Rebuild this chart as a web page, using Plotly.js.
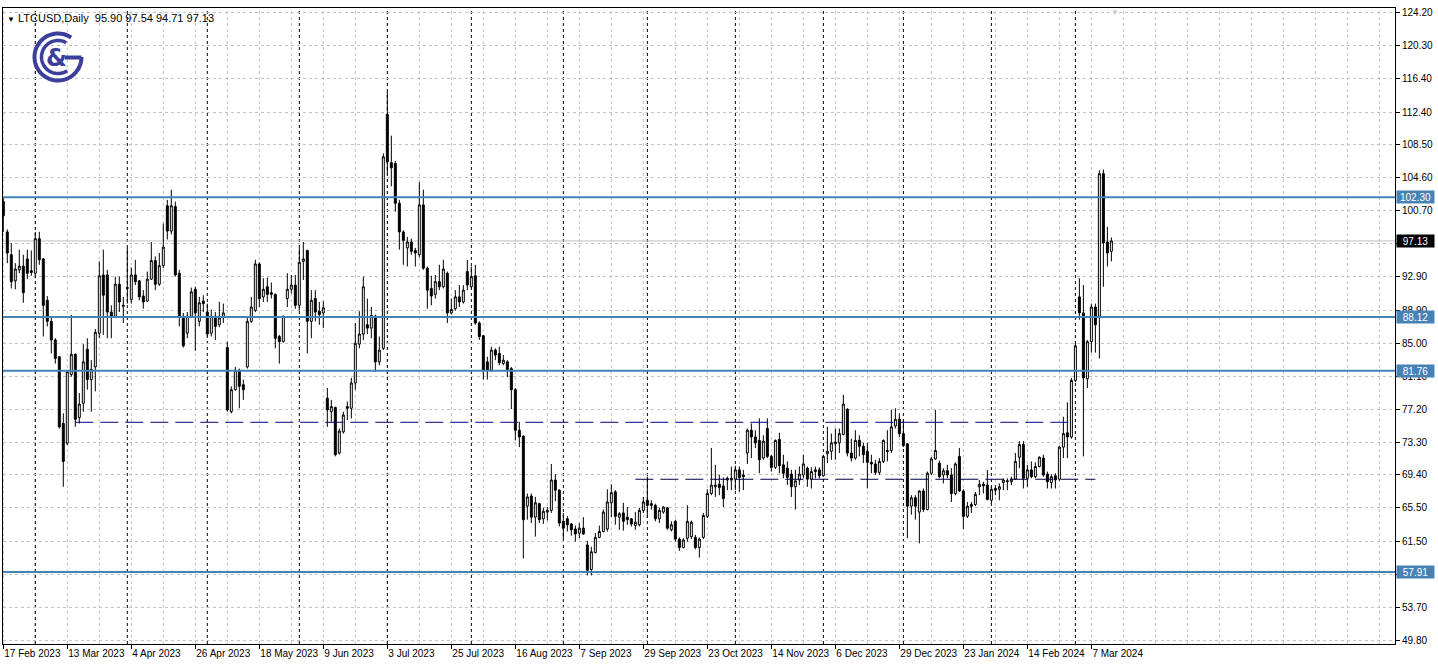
<!DOCTYPE html>
<html><head><meta charset="utf-8">
<script src="https://cdn.plot.ly/plotly-3.0.1.min.js"></script>
<style>html,body{margin:0;padding:0;background:#fff;}#chart{width:1438px;height:671px;}</style>
</head><body><div id="chart"></div>
<script>
// ---- data (LTCUSD daily, weekday bars) ----
const symbol = "LTCUSD,Daily";
const firstDate = "2023-02-17";
const skipDates = ["2023-12-25", "2024-01-01"];
const open = [
101.8,98.2,95.5,92.4,93.7,94.15,95.0,93.6,93.3,97.4,
95.0,90.1,87.6,85.4,83.4,75.5,73.15,81.3,83.7,76.2,
77.9,84.3,80.7,82.2,86.2,93.1,93.1,88.7,88.2,92.0,
89.5,91.5,90.2,93.1,92.4,90.6,90.0,92.6,94.8,92.0,
94.2,101.3,98.3,101.2,93.3,88.2,86.2,88.2,91.4,87.6,
90.0,88.7,86.2,88.2,87.2,88.0,84.5,76.9,79.5,81.8,
80.1,82.2,87.6,88.9,94.4,90.5,91.7,91.0,90.8,85.8,
85.2,90.3,91.4,91.9,89.5,94.7,96.0,87.6,90.3,88.8,
88.6,78.5,76.9,77.4,72.0,74.5,77.5,77.3,80.3,84.9,
86.1,87.2,86.8,88.2,82.8,84.4,112.1,106.4,106.3,101.6,
98.2,96.3,97.0,96.0,95.5,101.4,93.9,91.5,90.8,92.3,
91.7,93.3,88.6,89.1,90.5,89.9,93.5,91.7,93.0,87.4,
85.9,82.8,81.8,84.2,83.8,82.6,82.8,82.0,79.5,74.7,
74.0,65.7,66.9,64.4,66.0,64.2,65.0,65.2,68.8,67.6,
63.9,64.2,63.6,63.0,62.5,63.1,61.1,58.2,60.2,62.0,
62.7,63.0,66.1,67.4,64.4,64.9,64.4,64.2,63.4,63.5,
65.2,66.4,66.0,65.8,64.2,65.0,65.5,62.9,63.9,61.8,
60.8,61.9,62.1,62.0,60.8,62.0,64.5,67.2,68.0,68.3,
68.1,68.8,69.0,68.9,70.0,69.4,72.0,74.7,73.9,73.5,
71.4,74.9,71.6,70.3,73.6,70.6,70.2,69.5,68.0,68.8,
69.4,70.2,68.9,69.8,70.0,69.3,71.9,72.2,73.1,73.2,
74.2,77.2,72.0,71.4,73.5,72.8,72.2,70.9,70.7,69.7,
71.0,72.3,72.3,75.2,76.0,74.3,73.1,65.7,66.7,65.0,
67.5,65.3,69.6,71.3,70.8,69.4,69.9,69.4,67.2,71.6,
67.5,64.5,65.9,65.9,68.0,68.3,68.2,66.4,67.8,67.7,
68.5,68.6,68.6,68.9,71.5,73.0,69.0,70.0,69.2,70.4,
71.4,69.5,68.5,69.3,68.9,72.7,74.4,73.9,80.6,90.5,
88.6,80.8,85.2,89.3,88.2,105.1,97.0,95.90];
const high = [
102.2,98.5,96.85,94.5,96.1,95.5,96.1,96.0,98.2,98.2,
95.1,90.6,88.0,85.6,83.5,76.7,81.8,88.35,83.8,79.1,
84.9,85.6,83.0,86.7,94.7,96.1,93.7,89.5,92.9,92.9,
90.5,96.3,94.0,94.9,92.5,91.3,93.5,97.0,95.3,95.7,
99.2,102.0,103.2,101.8,93.7,88.6,88.7,91.6,91.7,90.5,
90.7,89.7,89.0,88.7,89.9,89.7,85.2,79.9,82.2,82.0,
80.7,88.1,90.5,94.9,94.6,92.7,92.8,92.2,90.9,86.0,
88.3,93.3,93.1,93.1,96.3,97.0,96.1,91.3,91.3,89.9,
90.0,79.7,78.3,77.5,74.9,76.9,78.1,80.9,87.4,88.8,
92.9,90.3,89.3,88.4,85.8,107.5,114.8,109.6,106.6,102.0,
98.4,97.6,97.4,96.3,104.1,103.2,94.1,93.0,93.1,94.3,
94.9,93.5,90.3,91.3,91.9,91.9,94.9,94.1,94.3,87.6,
86.0,83.4,84.6,84.4,84.6,83.6,83.0,82.2,79.7,75.7,
74.1,67.2,67.2,66.8,66.1,65.5,65.6,70.7,69.5,67.7,
64.9,64.5,63.7,63.4,63.7,64.4,61.6,60.9,62.5,63.4,
65.3,67.7,68.3,67.6,65.0,66.1,65.6,64.3,65.0,65.5,
66.8,69.2,66.4,66.0,65.5,65.7,65.6,63.9,64.1,62.0,
61.9,65.8,64.0,62.3,62.0,64.9,67.7,72.6,70.6,69.4,
69.1,69.2,70.4,70.5,70.4,70.0,74.9,75.5,74.7,76.1,
74.1,76.1,71.8,73.6,74.4,71.8,71.0,70.0,70.0,70.4,
71.8,70.4,70.3,70.4,70.3,71.8,75.1,74.3,74.9,74.9,
78.9,77.3,73.7,74.7,74.1,73.2,73.2,71.8,71.2,71.4,
73.6,74.7,77.1,77.3,76.7,75.9,73.2,67.0,67.0,67.6,
67.8,69.8,71.5,77.1,71.1,70.2,70.6,70.2,70.9,72.6,
67.7,66.2,66.2,67.4,68.8,68.6,70.0,68.0,68.2,68.4,
69.0,69.0,69.2,72.0,73.4,73.4,70.6,71.0,70.9,71.6,
71.8,69.8,69.5,69.6,72.8,76.3,78.0,80.9,85.0,92.7,
91.9,85.4,89.7,89.7,105.5,105.6,98.8,97.54];
const low = [
98.2,94.5,91.5,91.4,93.3,89.8,92.6,93.0,92.7,94.3,
85.8,87.0,83.8,82.6,74.9,68.0,72.95,81.05,75.1,75.5,
76.9,79.5,76.9,79.3,85.6,86.0,85.6,85.6,88.1,88.7,
87.4,89.7,89.7,91.9,90.1,89.1,89.9,92.5,91.3,91.8,
93.9,97.3,97.9,92.9,87.0,84.5,85.6,88.1,84.1,87.0,
88.7,85.8,85.8,85.4,86.9,87.4,76.9,76.7,79.4,77.3,
78.3,82.0,87.4,88.7,89.3,89.9,89.9,90.3,84.4,82.6,
85.1,89.3,90.9,89.1,88.9,92.5,83.8,85.6,87.6,87.2,
86.8,75.1,75.7,71.6,71.8,74.3,75.9,76.1,79.5,84.4,
85.4,86.1,85.6,81.6,82.4,84.2,105.1,103.6,100.6,96.1,
94.3,94.1,95.5,94.1,95.2,93.7,89.1,89.5,90.3,91.3,
91.5,87.4,88.4,88.9,89.3,89.7,91.3,91.5,87.2,85.4,
80.7,80.7,81.6,83.0,82.4,82.4,81.0,77.2,73.5,72.7,
59.5,64.1,63.7,62.1,63.7,63.6,64.0,64.9,66.3,63.3,
61.8,62.7,62.2,61.5,61.9,62.3,57.5,57.5,60.1,61.9,
62.6,62.7,64.4,63.5,62.9,62.8,63.5,63.3,62.9,63.3,
64.9,64.3,65.3,63.9,63.7,64.8,62.9,62.7,61.5,60.4,
60.7,61.5,61.8,60.6,59.6,61.8,64.3,67.0,66.8,67.0,
65.6,67.6,67.6,67.6,67.4,67.6,70.7,71.4,72.6,69.6,
71.2,71.4,69.8,70.1,69.6,69.0,68.2,66.8,65.3,68.2,
69.0,68.0,67.8,69.0,69.0,69.2,70.8,71.2,71.2,72.0,
74.1,71.6,71.0,71.2,71.6,70.8,67.8,69.6,69.4,69.4,
70.8,71.0,72.0,74.9,73.9,72.7,61.9,64.7,64.1,61.3,
65.0,65.2,69.4,71.2,69.0,68.4,69.0,66.2,67.0,67.4,
63.0,64.3,64.9,65.7,67.0,67.2,66.4,66.0,67.0,66.4,
67.6,67.6,68.2,68.8,70.2,67.8,68.0,69.0,69.0,70.3,
69.2,67.8,67.8,67.8,68.7,71.4,71.4,73.7,80.4,87.8,
71.6,79.7,83.9,83.9,83.2,91.7,94.1,94.71];
const close = [
100.1,95.7,92.3,93.8,94.15,91.0,93.3,93.4,97.4,94.9,
89.5,87.6,85.4,83.2,75.1,71.0,81.64,83.7,76.0,77.8,
82.8,80.7,81.9,86.3,93.0,90.7,88.7,88.2,92.0,89.9,
89.4,91.6,93.1,92.3,90.5,89.9,92.6,94.8,92.0,94.2,
96.4,98.3,101.3,93.1,88.2,84.7,88.2,91.1,88.6,89.8,
89.7,86.1,88.2,87.0,88.0,88.6,77.1,79.5,81.8,79.9,
79.5,87.6,89.3,94.4,90.3,91.4,90.8,90.8,85.6,85.2,
88.2,91.4,91.9,89.5,94.6,95.0,87.6,90.1,88.7,88.4,
89.2,77.1,77.5,71.8,74.6,76.5,77.3,80.3,85.0,86.1,
91.7,86.8,88.3,82.8,84.2,107.1,106.5,105.8,101.6,98.2,
97.2,97.0,95.9,95.7,101.4,93.9,91.3,90.6,92.3,91.7,
93.8,88.6,89.0,90.5,89.9,91.3,91.9,92.9,87.4,85.8,
81.8,81.8,84.2,83.6,82.7,83.0,81.9,79.5,74.7,73.9,
64.1,66.8,64.4,66.1,64.1,65.1,65.2,68.8,67.6,63.7,
63.1,63.5,62.9,62.4,63.1,62.4,58.1,60.3,62.0,62.7,
65.0,66.2,67.3,64.5,64.8,63.9,64.1,63.6,63.8,65.2,
66.2,65.8,65.8,64.2,65.2,65.6,63.1,63.5,61.8,60.8,
61.7,63.9,63.8,60.8,61.8,64.6,67.2,68.2,68.2,67.9,
66.6,69.0,68.8,70.0,69.1,69.2,74.7,73.9,73.2,71.2,
73.4,71.6,70.3,73.5,70.5,69.6,69.1,68.0,68.7,69.5,
70.7,68.9,69.8,70.0,69.3,71.6,72.2,73.2,73.3,74.3,
77.8,72.0,71.4,73.5,72.8,71.8,70.9,70.7,69.7,71.0,
73.5,72.2,75.1,76.0,74.3,72.9,65.7,66.7,65.7,67.5,
65.3,69.6,71.3,72.3,69.2,69.9,69.4,67.2,70.7,67.5,
64.5,65.7,65.7,67.1,68.3,68.1,66.5,67.7,67.6,68.0,
68.8,68.7,68.9,71.0,73.0,69.0,70.0,69.2,70.4,71.5,
69.4,68.6,69.2,68.8,72.7,74.3,73.9,80.6,84.7,88.6,
80.9,85.2,89.3,87.2,105.1,96.9,95.7,97.13];
const tickLabels = ["17 Feb 2023","13 Mar 2023","4 Apr 2023","26 Apr 2023","18 May 2023","9 Jun 2023",
 "3 Jul 2023","25 Jul 2023","16 Aug 2023","7 Sep 2023","29 Sep 2023","23 Oct 2023","14 Nov 2023",
 "6 Dec 2023","29 Dec 2023","23 Jan 2024","14 Feb 2024","7 Mar 2024"];
const yTicks = [124.20,120.30,116.40,112.40,108.50,104.60,100.70,96.80,92.90,88.90,85.00,81.10,77.20,73.30,69.40,65.50,61.50,57.60,53.70,49.80];
const levels = [102.30, 88.12, 81.76, 57.91];
const lastPrice = 97.13;
const dashLevelUpper = 75.64;
const dashLevelLower = 68.89;
const dashUpperBars = [18, 268];
const dashLowerBars = [158, 273];

// ---- build dates (weekdays, excluding skipDates) ----
const MON = ["Jan","Feb","Mar","Apr","May","Jun","Jul","Aug","Sep","Oct","Nov","Dec"];
const N = close.length;
const dates = [];
{
  let d = new Date(firstDate + "T00:00:00Z");
  while (dates.length < N) {
    const wd = d.getUTCDay();
    const iso = d.toISOString().slice(0,10);
    if (wd !== 0 && wd !== 6 && !skipDates.includes(iso)) dates.push(new Date(d));
    d.setUTCDate(d.getUTCDate() + 1);
  }
}
const fmt = d => d.getUTCDate() + " " + MON[d.getUTCMonth()] + " " + d.getUTCFullYear();
const idx = dates.map((_, i) => i);
const labelsAll = dates.map(fmt);
const tickvals = [], ticktext = [];
labelsAll.forEach((s, i) => { if (tickLabels.includes(s)) { tickvals.push(i); ticktext.push(s); } });
const monthStarts = [];
for (let i = 1; i < N; i++) if (dates[i].getUTCMonth() !== dates[i-1].getUTCMonth()) monthStarts.push(i);

// ---- geometry ----
const W = 1438, H = 671;
const M = {l: 3, r: 43, t: 8, b: 27};
const PX = {l: M.l, r: W - M.r, t: M.t, b: H - M.b};
const fx = px => (px - PX.l) / (PX.r - PX.l);
const fy = py => 1 - (py - PX.t) / (PX.b - PX.t);
const xRange = [-0.075, 347.9];
const yRange = [49.37, 124.73];
const FONT = 'Liberation Sans, Arial';

const shapes = [];
for (let k = 0; k <= xRange[1]; k += 8) {
  shapes.push({type:'line', xref:'x', yref:'paper', x0:k, x1:k, y0:0, y1:1, layer:'below',
    line:{color:'#c3c3c3', width:1, dash:'3px,3px'}});
}
monthStarts.forEach(i => shapes.push({type:'line', xref:'x', yref:'paper', x0:i, x1:i, y0:0, y1:1, layer:'below',
  line:{color:'#000', width:1, dash:'3px,3px'}}));
shapes.push({type:'line', xref:'paper', yref:'y', x0:0, x1:1, y0:lastPrice, y1:lastPrice, layer:'below',
  line:{color:'#c0c0c0', width:1}});
levels.forEach(v => shapes.push({type:'line', xref:'paper', yref:'y', x0:0, x1:1, y0:v, y1:v, layer:'above',
  line:{color:'#4682b4', width:2}}));
shapes.push({type:'line', xref:'x', yref:'y', x0:dashUpperBars[0], x1:dashUpperBars[1], y0:dashLevelUpper, y1:dashLevelUpper,
  layer:'above', line:{color:'#000080', width:1, dash:'18px,7px'}});
shapes.push({type:'line', xref:'x', yref:'y', x0:dashLowerBars[0], x1:dashLowerBars[1], y0:dashLevelLower, y1:dashLevelLower,
  layer:'above', line:{color:'#000040', width:1, dash:'18px,7px'}});

// logo
const logoColor = '#3a3f9c';
function arc(cx, cy, r, a0, a1, n) {
  let s = '';
  for (let k = 0; k <= n; k++) {
    const a = (a0 + (a1 - a0) * k / n) * Math.PI / 180;
    const x = cx + r * Math.cos(a), y = cy - r * Math.sin(a);
    s += (k ? ' L ' : 'M ') + fx(x).toFixed(5) + ',' + fy(y).toFixed(5);
  }
  return s;
}
const LC = {x: 58, y: 57};
shapes.push({type:'path', xref:'paper', yref:'paper', path: arc(LC.x, LC.y, 23.5, 56, 360, 80),
  line:{color:logoColor, width:4}, fillcolor:'rgba(0,0,0,0)', layer:'above'});
shapes.push({type:'path', xref:'paper', yref:'paper', path: arc(LC.x, LC.y, 16.5, 60, 304, 70),
  line:{color:logoColor, width:3.5}, fillcolor:'rgba(0,0,0,0)', layer:'above'});
shapes.push({type:'line', xref:'paper', yref:'paper', x0:fx(65), x1:fx(81.5), y0:fy(57.5), y1:fy(57.5),
  line:{color:logoColor, width:4}, layer:'above'});

const annotations = [];
annotations.push({xref:'paper', yref:'paper', x:fx(56.5), y:fy(58), text:'&amp;', showarrow:false,
  font:{family:'DejaVu Sans', size:24, color:logoColor, weight:'bold'}, xanchor:'center', yanchor:'middle'});
annotations.push({xref:'paper', yref:'paper', x:0, y:1, xanchor:'left', yanchor:'top', xshift:2, yshift:-2,
  showarrow:false, align:'left',
  text:'<span style="font-size:8px">▼</span> ' + symbol + '  ' + [open[N-1], high[N-1], low[N-1], close[N-1]].map(v => v.toFixed(2)).join(' '),
  font:{family:FONT, size:11, color:'#000'}});
annotations.push({xref:'paper', yref:'paper', x:fx(1115), y:1, xanchor:'center', yanchor:'top', showarrow:false,
  text:'▼', font:{size:8, color:'#c8c8c8'}, yshift:2});
const boxLabel = (v, bg) => ({xref:'paper', yref:'y', x:1, y:v, xanchor:'left', yanchor:'middle', xshift:0.5,
  showarrow:false, text:v.toFixed(2), bgcolor:bg, borderpad:0, width:37, height:12, align:'center',
  font:{family:FONT, size:10, color:'#fff'}});
levels.forEach(v => annotations.push(boxLabel(v, '#4682b4')));
annotations.push(boxLabel(lastPrice, '#000'));

const trace = {
  type:'candlestick', x: idx, open, high, low, close,
  increasing:{line:{color:'#000', width:1}, fillcolor:'#fff'},
  decreasing:{line:{color:'#000', width:1}, fillcolor:'#000'},
  whiskerwidth: 0, hoverinfo:'skip', showlegend:false
};

const layout = {
  width: W, height: H, margin: M, paper_bgcolor:'#fff', plot_bgcolor:'#fff',
  showlegend:false, dragmode:false,
  font:{family:FONT, size:10, color:'#000'},
  xaxis:{type:'linear', range:xRange, tickmode:'array', tickvals, ticktext, ticks:'outside', ticklen:4,
    tickangle:0, tickcolor:'#000', ticklabelposition:'outside right', showgrid:false, zeroline:false,
    showline:true, linecolor:'#000', linewidth:1, mirror:true, rangeslider:{visible:false}, automargin:false,
    tickfont:{family:FONT, size:10, color:'#000'}},
  yaxis:{side:'right', range:yRange, tickmode:'array', tickvals:yTicks, ticktext:yTicks.map(v => v.toFixed(2)),
    ticks:'outside', ticklen:4, tickcolor:'#000', showgrid:true, gridcolor:'#c3c3c3', griddash:'3px,3px',
    zeroline:false, showline:true, linecolor:'#000', linewidth:1, mirror:true, automargin:false,
    tickfont:{family:FONT, size:10, color:'#000'}},
  shapes, annotations
};
Plotly.newPlot('chart', [trace], layout, {staticPlot:true, displayModeBar:false});
</script></body></html>
